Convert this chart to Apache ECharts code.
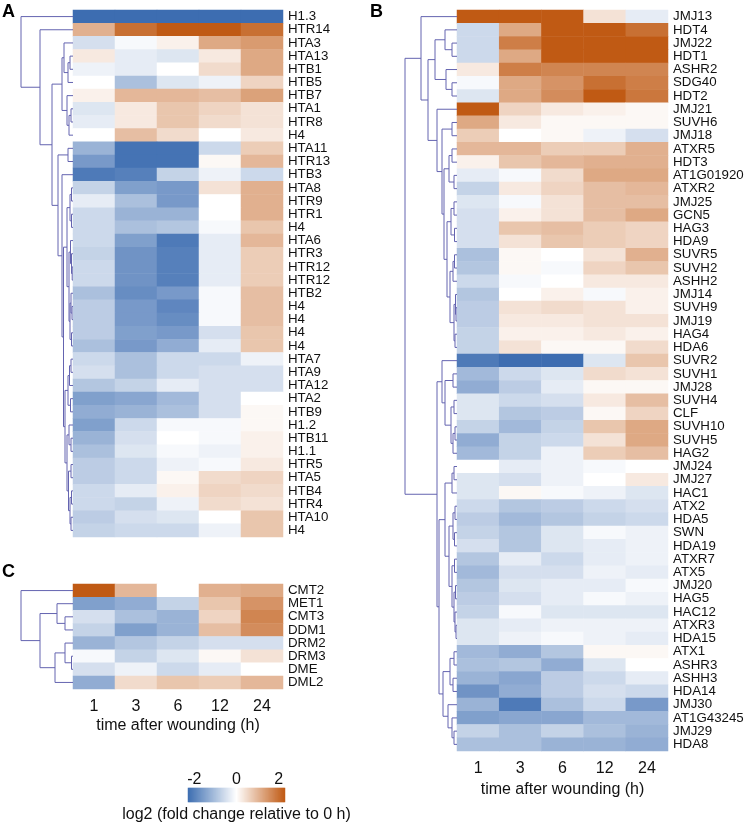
<!DOCTYPE html>
<html><head><meta charset="utf-8">
<script src="https://cdn.jsdelivr.net/npm/echarts@6/dist/echarts.min.js"></script>
<style>html,body{margin:0;padding:0;background:#fff}#c{width:747px;height:824px}</style>
</head><body><div id="c"></div>
<script>
const times = ['1', '3', '6', '12', '24'];

const rowsA = ['H1.3','HTR14','HTA3','HTA13','HTB1','HTB5','HTB7','HTA1','HTR8','H4','HTA11','HTR13','HTB3','HTA8','HTR9','HTR1','H4','HTA6','HTR3','HTR12','HTR12','HTB2','H4','H4','H4','H4','HTA7','HTA9','HTA12','HTA2','HTB9','H1.2','HTB11','H1.1','HTR5','HTA5','HTB4','HTR4','HTA10','H4'];
const valuesA = [
[-2.5,-2.5,-2.5,-2.5,-2.5],
[1.1,2.0,2.4,2.4,2.0],
[-0.5,-0.1,0.2,1.2,1.4],
[0.3,-0.3,-0.4,0.3,1.2],
[-0.2,-0.3,0.0,0.5,1.2],
[0.0,-1.0,-0.4,-0.2,0.6],
[0.2,1.0,1.0,0.9,1.3],
[-0.4,0.3,0.8,0.6,0.4],
[-0.3,0.3,0.8,0.5,0.4],
[0.0,0.9,0.5,0.0,0.3],
[-1.2,-2.2,-2.2,-0.6,0.7],
[-1.6,-2.2,-2.2,0.1,1.0],
[-2.1,-2.0,-0.7,-0.2,-0.6],
[-0.7,-1.5,-1.6,0.4,1.1],
[-0.3,-1.0,-1.6,0.0,1.1],
[-0.6,-1.2,-1.2,0.0,1.1],
[-0.6,-1.0,-0.9,-0.1,0.8],
[-0.6,-1.5,-2.1,-0.3,1.0],
[-0.7,-1.7,-2.0,-0.3,0.7],
[-0.6,-1.7,-2.0,-0.3,0.7],
[-0.6,-1.7,-2.0,-0.3,0.7],
[-1.0,-1.8,-1.6,-0.1,0.9],
[-0.8,-1.6,-1.9,-0.1,0.9],
[-0.8,-1.6,-1.8,-0.1,0.9],
[-0.8,-1.5,-1.6,-0.5,0.8],
[-1.0,-1.6,-1.3,-0.3,0.8],
[-0.6,-1.0,-0.6,-0.6,-0.2],
[-0.5,-1.0,-0.6,-0.5,-0.5],
[-0.9,-0.7,-0.3,-0.5,-0.5],
[-1.5,-1.4,-1.1,-0.5,0.0],
[-1.3,-1.2,-1.0,-0.5,0.1],
[-1.5,-0.6,-0.1,-0.1,0.1],
[-1.2,-0.5,0.0,-0.1,0.2],
[-1.0,-0.4,-0.1,-0.2,0.2],
[-0.8,-0.6,-0.2,-0.1,0.3],
[-0.8,-0.6,0.1,0.5,0.6],
[-0.6,-0.3,0.2,0.6,0.5],
[-0.6,-0.7,-0.2,0.5,0.4],
[-0.8,-0.5,-0.4,0.0,0.8],
[-0.7,-0.6,-0.6,-0.2,0.8]
];

const rowsB = ['JMJ13','HDT4','JMJ22','HDT1','ASHR2','SDG40','HDT2','JMJ21','SUVH6','JMJ18','ATXR5','HDT3','AT1G01920','ATXR2','JMJ25','GCN5','HAG3','HDA9','SUVR5','SUVH2','ASHH2','JMJ14','SUVH9','JMJ19','HAG4','HDA6','SUVR2','SUVH1','JMJ28','SUVH4','CLF','SUVH10','SUVH5','HAG2','JMJ24','JMJ27','HAC1','ATX2','HDA5','SWN','HDA19','ATXR7','ATX5','JMJ20','HAG5','HAC12','ATXR3','HDA15','ATX1','ASHR3','ASHH3','HDA14','JMJ30','AT1G43245','JMJ29','HDA8'];
const valuesB = [
[2.4,2.4,2.4,0.4,-0.3],
[-0.6,1.2,2.3,2.4,2.0],
[-0.6,1.8,2.4,2.4,2.4],
[-0.6,1.2,2.4,2.4,2.4],
[0.3,1.8,1.7,1.7,1.7],
[-0.1,1.2,1.5,2.0,1.8],
[-0.4,1.2,1.6,2.3,1.9],
[2.4,0.6,0.3,0.2,0.1],
[1.2,0.3,0.1,0.1,0.1],
[0.7,0.0,0.1,-0.2,-0.5],
[1.0,1.0,0.7,0.7,1.1],
[0.2,0.8,1.0,1.1,1.1],
[-0.3,-0.1,0.5,1.2,1.2],
[-0.7,0.3,0.6,0.9,1.0],
[-0.4,-0.1,0.4,0.9,0.9],
[-0.5,0.2,0.4,0.9,1.2],
[-0.5,0.8,0.9,0.7,0.6],
[-0.5,0.4,0.8,0.7,0.6],
[-1.0,0.1,0.0,0.4,1.1],
[-0.9,0.1,-0.1,0.6,0.8],
[-0.6,-0.1,0.0,0.3,0.3],
[-0.9,0.0,0.2,-0.1,0.2],
[-0.8,0.4,0.5,0.4,0.2],
[-0.8,0.3,0.3,0.4,0.4],
[-0.7,0.2,0.2,0.3,0.2],
[-0.7,0.4,0.1,0.1,0.5],
[-2.1,-2.3,-2.3,-0.4,0.8],
[-1.1,-0.6,-0.4,0.5,0.4],
[-1.3,-0.8,-0.3,0.1,0.1],
[-0.4,-0.6,-0.5,0.3,0.9],
[-0.4,-0.9,-0.8,0.1,0.6],
[-0.7,-1.1,-0.7,0.8,1.2],
[-1.3,-0.7,-0.6,0.4,1.2],
[-1.1,-0.7,-0.2,0.7,0.9],
[0.0,-0.3,-0.2,-0.1,0.0],
[-0.4,-0.5,-0.2,0.0,0.3],
[-0.4,0.1,-0.1,-0.2,-0.4],
[-0.6,-0.9,-0.8,-0.6,-0.5],
[-0.8,-1.1,-0.9,-0.7,-0.6],
[-0.7,-0.9,-0.4,-0.1,-0.2],
[-0.5,-0.9,-0.4,-0.3,-0.2],
[-0.9,-0.3,-0.6,-0.3,-0.2],
[-1.1,-0.5,-0.5,-0.2,-0.3],
[-0.9,-0.4,-0.3,-0.3,-0.1],
[-0.8,-0.5,-0.3,-0.1,-0.2],
[-0.7,-0.1,-0.4,-0.4,-0.4],
[-0.4,-0.3,-0.2,-0.2,-0.2],
[-0.4,-0.2,-0.1,-0.2,-0.3],
[-1.1,-1.3,-0.9,0.1,0.1],
[-1.0,-0.9,-1.3,-0.4,0.0],
[-1.2,-1.4,-0.8,-0.6,-0.3],
[-1.7,-1.3,-0.8,-0.5,-0.6],
[-1.2,-2.1,-1.0,-0.6,-1.6],
[-1.5,-1.4,-1.4,-1.1,-1.1],
[-0.7,-1.0,-0.7,-1.0,-1.2],
[-1.0,-1.0,-1.2,-1.2,-1.3]
];

const rowsC = ['CMT2','MET1','CMT3','DDM1','DRM2','DRM3','DME','DML2'];
const valuesC = [
[2.4,1.0,0.0,1.1,1.2],
[-1.5,-1.3,-0.7,0.8,1.5],
[-0.5,-1.0,-1.2,0.6,1.7],
[-0.7,-1.5,-1.2,0.9,1.6],
[-1.2,-0.9,-0.7,-0.5,-0.5],
[-0.1,-0.7,-0.4,0.1,0.4],
[-0.5,-0.2,-0.6,-0.3,0.0],
[-1.3,0.5,0.8,0.7,1.0]
];

// dendrograms: [height, left, right]; leaves = row index
const treeA = [52, 0, [33, 1, [21,
  [11, [9, 2, [5, [3, 3, 4], 5]], [6, 6, [4, [2, 7, 8], 9]]],
  [15, [5, 10, 11], [11, 12, [9.5,
    [6, [3, [1.5, 13, 14], [1.5, 15, 16]], [4, [2.5, 17, [1.5, 18, [0.8, 19, 20]]], [3, [2, 21, [1, 22, 23]], [1.5, 24, 25]]]],
    [8, [5, [3.5, [2, 26, 27], 28], [2.5, 29, 30]], [6, [4, 31, [2, 32, 33]], [4.5, [2, 34, 35], [3, [1.5, 36, 37], [2, 38, 39]]]]]
  ]]]
]]];
const treeB = [52,
  [36, 0, [29,
    [22, [12, 1, [5, 2, 3]], [11, 4, [5, 5, 6]]],
    [20, 7, [15, [5, 8, 9], [13, [8, [5, 10, 11], [3, 12, 13]],
      [10, [6, [3, 14, 15], [2.5, 16, 17]], [7, [4, [2.5, 18, 19], 20], [3, [1.5, 21, [1, 22, 23]], [2, 24, 25]]]]]]]
  ]],
  [20,
    [15, 26, [12, [4, 27, 28], [6, [3, 29, 30], [4, [2, 31, 32], 33]]]],
    [18,
      [12, [5, [3, 34, 35], 36], [8, [4, [2, 37, 38], [2.5, 39, 40]], [5, [2.5, 41, 42], [3, [1.5, 43, 44], [2, 45, [1, 46, 47]]]]]],
      [14, [7, [3, 48, 49], [4, 50, 51]], [9, 52, [5, 53, [3, 54, 55]]]]
    ]
  ]
];
const treeC = [52, 0, [33, [16, 1, [8, 2, 3]], [18, [8, 4, [1.5, 5, 6]], 7]]];

const cbTicks = [-2, 0, 2];
const VMIN = -2.3, VMAX = 2.3;

const FONT = "'Liberation Sans', Arial, sans-serif";
const LINE = '#6464b0';

function cells(vals) {
  const out = [];
  vals.forEach((row, r) => row.forEach((v, c) => out.push([c, r, Math.max(VMIN, Math.min(VMAX, v))])));
  return out;
}
function dendro(tree) {
  const out = [];
  (function walk(n) {
    if (typeof n === 'number') return { h: 0, y: n };
    const A = walk(n[1]), B = walk(n[2]);
    out.push({ coords: [[A.h, A.y], [n[0], A.y], [n[0], B.y], [B.h, B.y]] });
    return { h: n[0], y: (A.y + B.y) / 2 };
  })(tree);
  return out;
}
const cbBins = [];
const NB = 97;
for (let i = 0; i < NB; i++) cbBins.push([i, 0, VMIN + (i + 0.5) * (VMAX - VMIN) / NB]);

const grids = [
  { left: 73, top: 10, width: 210, height: 527 },
  { left: 10, top: 10, width: 63, height: 527 },
  { left: 457, top: 10, width: 211, height: 741 },
  { left: 394, top: 10, width: 63, height: 741 },
  { left: 73, top: 584, width: 210, height: 105 },
  { left: 10, top: 584, width: 63, height: 105 },
  { left: 188, top: 788, width: 97, height: 14 }
];
const hidden = { axisLine: { show: false }, axisTick: { show: false }, splitLine: { show: false } };
function catX(grid, show) {
  return Object.assign({ type: 'category', gridIndex: grid, data: times, position: 'bottom',
    axisLabel: { show: show, interval: 0, fontSize: 16, color: '#111', fontFamily: FONT, margin: 10 },
    name: show ? 'time after wounding (h)' : '', nameLocation: 'middle', nameGap: 29,
    nameTextStyle: { fontSize: 16, color: '#111', fontFamily: FONT } }, hidden);
}
function catY(grid, rows) {
  return Object.assign({ type: 'category', gridIndex: grid, data: rows, inverse: true, position: 'right',
    axisLabel: { interval: 0, fontSize: 13.3, color: '#111', fontFamily: FONT, margin: 5 } }, hidden);
}
function valX(grid) { return { type: 'value', gridIndex: grid, min: 0, max: 63, inverse: true, show: false }; }
function valY(grid, n) { return { type: 'value', gridIndex: grid, min: -0.5, max: n - 0.5, inverse: true, show: false }; }

const option = {
  animation: false,
  backgroundColor: '#fff',
  grid: grids,
  xAxis: [
    catX(0, false), valX(1), catX(2, true), valX(3), catX(4, true), valX(5),
    Object.assign({ type: 'category', gridIndex: 6, data: cbBins.map(b => b[0]), axisLabel: { show: false },
      name: 'log2 (fold change relative to 0 h)', nameLocation: 'middle', nameGap: 5,
      nameTextStyle: { fontSize: 16, color: '#111', fontFamily: FONT, verticalAlign: 'top' } }, hidden),
    Object.assign({ type: 'value', gridIndex: 6, min: VMIN, max: VMAX, position: 'top',
      axisLabel: { customValues: cbTicks, fontSize: 16, color: '#111', fontFamily: FONT, margin: 0 } }, hidden)
  ],
  yAxis: [
    catY(0, rowsA), valY(1, rowsA.length), catY(2, rowsB), valY(3, rowsB.length), catY(4, rowsC), valY(5, rowsC.length),
    Object.assign({ type: 'category', gridIndex: 6, data: ['cb'], show: false }, hidden)
  ],
  visualMap: {
    type: 'continuous', show: false, min: VMIN, max: VMAX, dimension: 2,
    seriesIndex: [0, 1, 2, 3],
    inRange: { color: ['#3d6db1', '#ffffff', '#c05a14'] }
  },
  series: [
    { type: 'heatmap', xAxisIndex: 0, yAxisIndex: 0, data: cells(valuesA), progressive: 0, emphasis: { disabled: true } },
    { type: 'heatmap', xAxisIndex: 2, yAxisIndex: 2, data: cells(valuesB), progressive: 0, emphasis: { disabled: true } },
    { type: 'heatmap', xAxisIndex: 4, yAxisIndex: 4, data: cells(valuesC), progressive: 0, emphasis: { disabled: true } },
    { type: 'heatmap', xAxisIndex: 6, yAxisIndex: 6, data: cbBins, progressive: 0, emphasis: { disabled: true } },
    { type: 'lines', coordinateSystem: 'cartesian2d', xAxisIndex: 1, yAxisIndex: 1, polyline: true, silent: true,
      lineStyle: { color: LINE, width: 1, opacity: 1 }, data: dendro(treeA) },
    { type: 'lines', coordinateSystem: 'cartesian2d', xAxisIndex: 3, yAxisIndex: 3, polyline: true, silent: true,
      lineStyle: { color: LINE, width: 1, opacity: 1 }, data: dendro(treeB) },
    { type: 'lines', coordinateSystem: 'cartesian2d', xAxisIndex: 5, yAxisIndex: 5, polyline: true, silent: true,
      lineStyle: { color: LINE, width: 1, opacity: 1 }, data: dendro(treeC) }
  ],
  graphic: [
    { type: 'text', left: 2, top: 3, style: { text: 'A', font: "bold 18px " + FONT, fill: '#000' } },
    { type: 'text', left: 370, top: 3, style: { text: 'B', font: "bold 18px " + FONT, fill: '#000' } },
    { type: 'text', left: 2, top: 563, style: { text: 'C', font: "bold 18px " + FONT, fill: '#000' } }
  ]
};
const chart = echarts.init(document.getElementById('c'), null, { renderer: 'canvas' });
chart.setOption(option);
</script>
</body></html>
